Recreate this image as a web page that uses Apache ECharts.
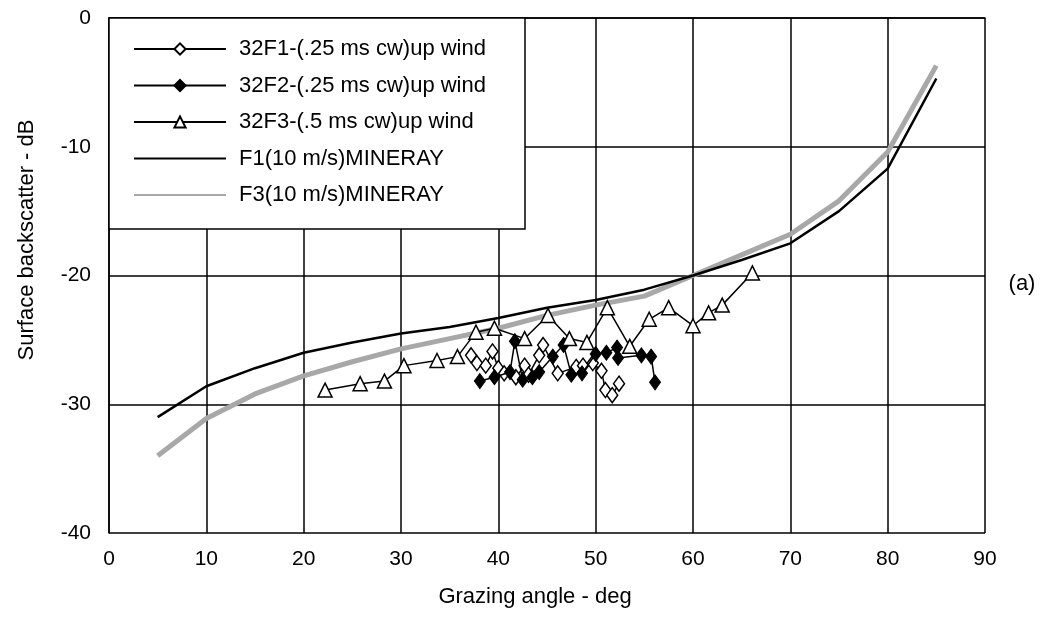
<!DOCTYPE html>
<html>
<head>
<meta charset="utf-8">
<script src="https://cdn.jsdelivr.net/npm/echarts@6/dist/echarts.min.js"></script>
<style>
  html, body { margin: 0; padding: 0; background: #fff; }
  #chart { width: 1050px; height: 624px; }
</style>
</head>
<body>
<div id="chart"></div>
<script>
// measured series: [grazing angle deg, backscatter dB]
const f1Open = [
  [37.2, -26.2], [37.8, -26.8], [38.7, -27.0], [39.4, -25.9], [40.0, -27.2],
  [40.6, -27.6], [41.8, -27.9], [42.7, -27.0], [43.1, -27.7], [44.2, -26.2],
  [44.6, -25.4], [46.1, -27.6], [48.0, -27.1], [48.7, -27.0], [49.7, -26.8],
  [50.6, -27.4], [51.0, -28.9], [51.7, -29.3], [52.4, -28.4]
]
const f2Filled = [
  [38.1, -28.2], [39.6, -27.9], [41.2, -27.5], [41.7, -25.1], [42.5, -28.1],
  [43.5, -27.9], [44.2, -27.5], [45.6, -26.3], [46.7, -25.4], [47.5, -27.7],
  [48.6, -27.6], [50.0, -26.1], [51.1, -26.0], [52.2, -25.6], [52.3, -26.4],
  [54.7, -26.2], [55.7, -26.3], [56.1, -28.3]
]
const f3Tri = [
  [22.2, -28.9], [25.8, -28.4], [28.3, -28.2], [30.3, -27.0], [33.7, -26.6],
  [35.8, -26.3], [37.7, -24.4], [39.6, -24.1], [42.7, -24.9], [45.1, -23.1],
  [47.3, -24.9], [49.1, -25.2], [51.2, -22.5], [53.5, -25.5], [55.5, -23.4],
  [57.5, -22.5], [60.0, -23.9], [61.6, -22.9], [63.0, -22.3], [66.1, -19.8]
]
// model curves
const modelAngles = [5, 10, 15, 20, 25, 30, 35, 40, 45, 50, 55, 60, 65, 70, 75, 80, 85]
const f1Model = [-31.0, -28.6, -27.2, -26.0, -25.2, -24.5, -24.0, -23.3, -22.5, -21.9, -21.1, -20.0, -18.8, -17.5, -15.0, -11.7, -4.7]
const f3Model = [-34.0, -31.1, -29.2, -27.8, -26.7, -25.7, -24.9, -24.1, -23.1, -22.3, -21.6, -20.0, -18.4, -16.8, -14.2, -10.4, -3.7]
const seriesNames = [
  '32F1-(.25 ms cw)up wind',
  '32F2-(.25 ms cw)up wind',
  '32F3-(.5 ms cw)up wind',
  'F1(10 m/s)MINERAY',
  'F3(10 m/s)MINERAY'
]

const font = 'Liberation Sans, Arial, Helvetica, sans-serif'
const chart = echarts.init(document.getElementById('chart'))

const zip = (xs, ys) => xs.map((x, i) => [x, ys[i]])
const noDot = { color: 'rgba(0,0,0,0)', borderColor: 'rgba(0,0,0,0)', borderWidth: 0 }

const option = {
  backgroundColor: '#fff',
  animation: false,
  grid: { left: 109, right: 65, top: 18, bottom: 91 },
  xAxis: {
    type: 'value',
    min: 0, max: 90, interval: 10,
    axisLine: { lineStyle: { color: '#000', width: 1.5 } },
    axisTick: { show: false },
    axisLabel: { color: '#000', fontSize: 21, fontFamily: font, margin: 16 },
    splitLine: { show: true, lineStyle: { color: '#000', width: 1.5 } }
  },
  yAxis: {
    type: 'value',
    min: -40, max: 0, interval: 10,
    axisLine: { show: true, lineStyle: { color: '#000', width: 1.5 } },
    axisTick: { show: false },
    axisLabel: { color: '#000', fontSize: 21, fontFamily: font, margin: 18 },
    splitLine: { show: true, lineStyle: { color: '#000', width: 1.5 } }
  },
  legend: {
    orient: 'vertical',
    left: 128,
    top: 33,
    itemWidth: 92,
    itemHeight: 14,
    itemGap: 14.5,
    textStyle: { color: '#000', fontSize: 22, fontFamily: font, lineHeight: 20, padding: [0, 0, 0, 8] },
    data: [
      seriesNames[0],
      seriesNames[1],
      seriesNames[2],
      { name: seriesNames[3], itemStyle: noDot },
      { name: seriesNames[4], itemStyle: noDot }
    ]
  },
  graphic: [
    {
      type: 'rect', z: 3,
      shape: { x: 109, y: 18, width: 416, height: 211 },
      style: { fill: '#fff', stroke: '#000', lineWidth: 1.5 }
    },
    {
      type: 'text', x: 27, y: 240, rotation: Math.PI / 2,
      style: { text: 'Surface backscatter - dB', fill: '#000', font: '22px ' + font, align: 'center', verticalAlign: 'middle' }
    },
    {
      type: 'text', x: 535, y: 597,
      style: { text: 'Grazing angle - deg', fill: '#000', font: '22px ' + font, align: 'center', verticalAlign: 'middle' }
    },
    {
      type: 'text', x: 1022, y: 284,
      style: { text: '(a)', fill: '#000', font: '22px ' + font, align: 'center', verticalAlign: 'middle' }
    }
  ],
  series: [
    {
      name: seriesNames[0], type: 'line', data: f1Open, z: 4,
      symbol: 'diamond', symbolSize: [11, 15],
      itemStyle: { color: '#fff', borderColor: '#000', borderWidth: 1.5 },
      lineStyle: { color: '#000', width: 1.5 }
    },
    {
      name: seriesNames[1], type: 'line', data: f2Filled, z: 5,
      symbol: 'diamond', symbolSize: [11, 15],
      itemStyle: { color: '#000', borderColor: '#000', borderWidth: 1 },
      lineStyle: { color: '#000', width: 1.5 }
    },
    {
      name: seriesNames[2], type: 'line', data: f3Tri, z: 6,
      symbol: 'triangle', symbolSize: [14, 14],
      itemStyle: { color: '#fff', borderColor: '#000', borderWidth: 1.5 },
      lineStyle: { color: '#000', width: 1.5 }
    },
    {
      name: seriesNames[3], type: 'line', data: zip(modelAngles, f1Model), z: 3,
      symbol: 'none',
      itemStyle: { color: '#000' },
      lineStyle: { color: '#000', width: 2.5 }
    },
    {
      name: seriesNames[4], type: 'line', data: zip(modelAngles, f3Model), z: 2,
      symbol: 'none',
      itemStyle: { color: '#a8a8a8' },
      lineStyle: { color: '#a8a8a8', width: 5 }
    }
  ]
}

chart.setOption(option)
</script>
</body>
</html>
